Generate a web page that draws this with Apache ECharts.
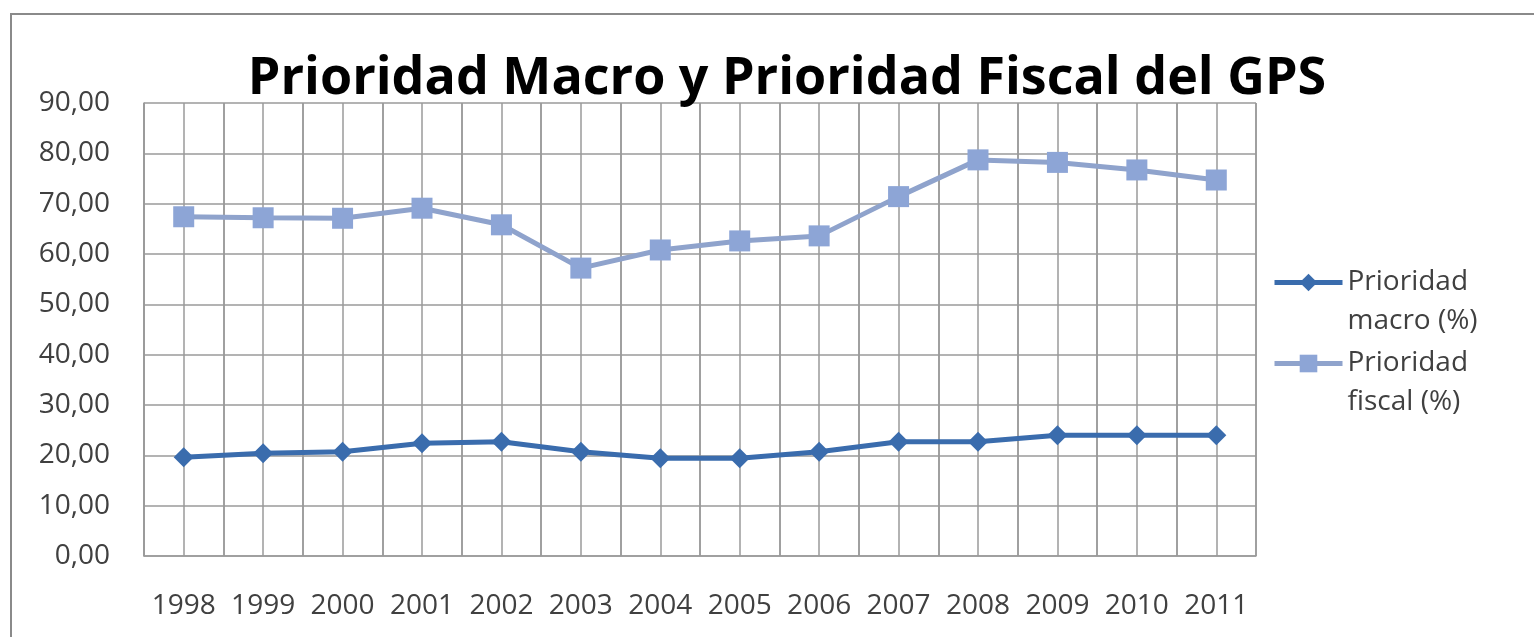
<!DOCTYPE html>
<html>
<head>
<meta charset="utf-8">
<script src="https://cdn.jsdelivr.net/npm/echarts@6/dist/echarts.min.js"></script>
<style>
html,body{margin:0;padding:0;background:#fff;}
#c{width:1534px;height:637px;}
</style>
</head>
<body>
<div id="c"></div>
<script>
const categories = ['1998','1999','2000','2001','2002','2003','2004','2005','2006','2007','2008','2009','2010','2011'];
const macro = [19.6, 20.4, 20.7, 22.4, 22.7, 20.7, 19.4, 19.4, 20.7, 22.7, 22.7, 24.0, 24.0, 24.0];
const fiscal = [67.4, 67.2, 67.1, 69.1, 65.8, 57.2, 60.8, 62.6, 63.6, 71.4, 78.7, 78.2, 76.7, 74.7];
const seriesNames = ['Prioridad macro (%)', 'Prioridad fiscal (%)'];
const yTicks = {min: 0, max: 90, interval: 10};
const halfCells = categories.flatMap(c => ['', '']);

const chart = echarts.init(document.getElementById('c'));
const font = '"Open Sans", Lato, sans-serif';
const gridColor = '#9a9a9a';
const legendCommon = {
  orient: 'vertical', left: 1272, padding: 0,
  itemWidth: 68, itemHeight: 22,
  lineStyle: {width: 5},
  textStyle: {fontFamily: font, fontSize: 28, color: '#404040', lineHeight: 39},
  formatter: n => ' \n' + n.replace(' ', '\n')
};
chart.setOption({
  animation: false,
  backgroundColor: '#fff',
  textStyle: {fontFamily: font},
  title: {
    text: 'Prioridad Macro y Prioridad Fiscal del GPS',
    left: 782, top: 48, textAlign: 'center',
    textStyle: {fontFamily: font, fontWeight: 'bold', fontSize: 52, color: '#000'}
  },
  graphic: [{
    type: 'rect', shape: {x: 11, y: 14, width: 1540, height: 640},
    style: {fill: 'none', stroke: '#8a8a8a', lineWidth: 2}, z: -1
  }],
  legend: [
    Object.assign({}, legendCommon, {top: 224, data: [seriesNames[0]]}),
    Object.assign({}, legendCommon, {top: 305, data: [seriesNames[1]]})
  ],
  grid: {left: 144, right: 278, top: 103, bottom: 81},
  xAxis: [{
    type: 'category', data: categories, boundaryGap: true,
    axisLine: {lineStyle: {color: gridColor, width: 1.5}},
    axisTick: {show: false},
    axisLabel: {fontFamily: font, fontSize: 28, color: '#404040', margin: 36, interval: 0},
    splitLine: {show: true, lineStyle: {color: gridColor, width: 1.5}}
  }, {
    type: 'category', data: halfCells, boundaryGap: true, position: 'bottom',
    axisLine: {show: false}, axisTick: {show: false}, axisLabel: {show: false},
    splitLine: {show: true, interval: 0, lineStyle: {color: gridColor, width: 1.5}}
  }],
  yAxis: {
    type: 'value', min: yTicks.min, max: yTicks.max, interval: yTicks.interval,
    axisLine: {show: true, lineStyle: {color: gridColor, width: 1.5}},
    axisTick: {show: false},
    axisLabel: {fontFamily: font, fontSize: 28, color: '#404040', margin: 34,
      formatter: v => v.toFixed(2).replace('.', ',')},
    splitLine: {show: true, lineStyle: {color: gridColor, width: 1.5}}
  },
  series: [{
    name: seriesNames[0], type: 'line', data: macro,
    symbol: 'diamond', symbolSize: 20,
    lineStyle: {color: '#3a6cad', width: 5},
    itemStyle: {color: '#3a6cad'}
  }, {
    name: seriesNames[1], type: 'line', data: fiscal,
    symbol: 'rect', symbolSize: 21,
    lineStyle: {color: '#8fa3cc', width: 5},
    itemStyle: {color: '#8da5d6'}
  }]
});
</script>
</body>
</html>
